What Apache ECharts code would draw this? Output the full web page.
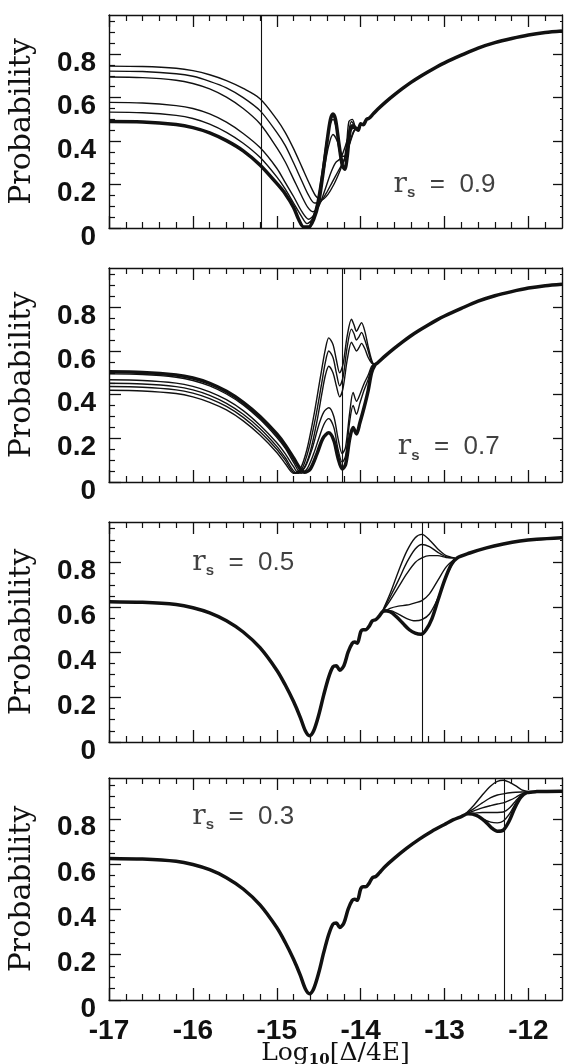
<!DOCTYPE html>
<html><head><meta charset="utf-8">
<script src="https://cdn.jsdelivr.net/npm/echarts@6/dist/echarts.min.js"></script>
<style>html,body{margin:0;padding:0;background:#fff}#c{width:564px;height:1064px}</style>
</head><body><div id="c"></div>
<script>
// ---------- axis ticks / labels ----------
const xMajor = [-17, -16, -15, -14, -13, -12];
const xMinor = [-16.8,-16.6,-16.4,-16.2,-15.8,-15.6,-15.4,-15.2,-14.8,-14.6,-14.4,-14.2,-13.8,-13.6,-13.4,-13.2,-12.8,-12.6,-12.4,-12.2,-11.8];
const yMajor = [0, 0.2, 0.4, 0.6, 0.8];
const yMinor = [0.05,0.1,0.15,0.25,0.3,0.35,0.45,0.5,0.55,0.65,0.7,0.75,0.85,0.9,0.95];
const rsValues = ['0.9', '0.7', '0.5', '0.3'];
const rsLabelPos = [[-13.0, 0.20], [-12.95, 0.16], [-15.4, 0.80], [-15.4, 0.81]];
const vLines = [-15.18, -14.22, -13.26, -12.29];

// ---------- panel 1 (r_s = 0.9) ----------
const tail12X = [-14.0,-13.97,-13.93,-13.9,-13.85,-13.8,-13.7,-13.6,-13.5,-13.4,-13.3,-13.2,-13.1,-13.0,-12.8,-12.6,-12.4,-12.2,-12.0,-11.8,-11.6];
const tail12Y = [0.48,0.475,0.50,0.505,0.525,0.545,0.58,0.612,0.642,0.67,0.695,0.718,0.74,0.76,0.795,0.828,0.853,0.872,0.888,0.899,0.906];
const H1x = [-17,-16.6,-16.2,-16.0,-15.8,-15.6,-15.4,-15.2,-15.0,-14.9,-14.8,-14.74,-14.68,-14.62,-14.56,-14.5,-14.45,-14.4,-14.36,-14.33,-14.3,-14.26,-14.22,-14.19,-14.16,-14.13,-14.1,-14.06,-14.03];
const H1y = [0.49,0.488,0.476,0.462,0.438,0.402,0.355,0.29,0.205,0.158,0.095,0.04,0.005,0.005,0.04,0.12,0.25,0.40,0.50,0.525,0.50,0.39,0.29,0.27,0.33,0.44,0.47,0.46,0.45];
const A1x = [-17,-16.6,-16.2,-16.0,-15.8,-15.6,-15.4,-15.2,-15.0,-14.9,-14.8,-14.7,-14.64,-14.58,-14.52,-14.46,-14.41,-14.37,-14.33,-14.29,-14.25,-14.21,-14.17,-14.14,-14.1,-14.06,-14.03];
const A1y = [0.533,0.53,0.518,0.504,0.478,0.44,0.39,0.325,0.235,0.18,0.115,0.05,0.02,0.04,0.12,0.26,0.39,0.47,0.50,0.46,0.37,0.30,0.38,0.49,0.50,0.46,0.45];
const B1x = [-17,-16.6,-16.2,-16.0,-15.8,-15.6,-15.4,-15.2,-15.0,-14.9,-14.8,-14.7,-14.62,-14.56,-14.5,-14.44,-14.38,-14.33,-14.28,-14.23,-14.19,-14.15,-14.11,-14.07,-14.03];
const B1y = [0.578,0.575,0.563,0.55,0.525,0.487,0.435,0.37,0.275,0.21,0.145,0.075,0.04,0.06,0.13,0.26,0.38,0.43,0.40,0.33,0.33,0.42,0.49,0.47,0.45];
const C1x = [-17,-16.6,-16.2,-16.0,-15.8,-15.6,-15.4,-15.2,-15.0,-14.9,-14.8,-14.7,-14.63,-14.57,-14.5,-14.43,-14.36,-14.3,-14.24,-14.18,-14.12,-14.07,-14.03];
const C1y = [0.695,0.692,0.68,0.665,0.64,0.602,0.55,0.48,0.37,0.305,0.225,0.145,0.095,0.075,0.10,0.17,0.25,0.30,0.32,0.38,0.45,0.46,0.45];
const D1x = [-17,-16.6,-16.2,-16.0,-15.8,-15.6,-15.4,-15.2,-15.0,-14.9,-14.8,-14.7,-14.62,-14.55,-14.48,-14.41,-14.34,-14.27,-14.2,-14.14,-14.09,-14.05,-14.02];
const D1y = [0.722,0.72,0.71,0.698,0.675,0.645,0.6,0.54,0.44,0.38,0.30,0.215,0.15,0.115,0.12,0.16,0.21,0.26,0.31,0.38,0.44,0.46,0.455];
const E1x = [-17,-16.6,-16.2,-16.0,-15.8,-15.6,-15.4,-15.2,-15.0,-14.9,-14.8,-14.7,-14.6,-14.53,-14.46,-14.39,-14.32,-14.25,-14.18,-14.12,-14.07,-14.03];
const E1y = [0.745,0.743,0.735,0.724,0.705,0.678,0.642,0.595,0.50,0.44,0.365,0.28,0.195,0.145,0.13,0.155,0.20,0.26,0.33,0.40,0.45,0.455];

// ---------- panel 2 (r_s = 0.7) ----------
const H2x = [-17,-16.6,-16.2,-16.0,-15.8,-15.6,-15.4,-15.2,-15.0,-14.9,-14.8,-14.72,-14.67,-14.6,-14.52,-14.45,-14.38,-14.32,-14.27,-14.22,-14.18,-14.13,-14.09,-14.05,-14.01,-13.96,-13.91,-13.87,-13.83];
const H2y = [0.505,0.502,0.49,0.476,0.452,0.415,0.365,0.30,0.22,0.17,0.11,0.06,0.045,0.06,0.13,0.20,0.225,0.19,0.11,0.06,0.08,0.20,0.25,0.22,0.27,0.34,0.42,0.50,0.535];
const L2x = [-17,-16.6,-16.2,-16.0,-15.8,-15.6,-15.4,-15.2,-15.0,-14.9,-14.8,-14.71,-14.64,-14.56,-14.49,-14.43,-14.38,-14.32,-14.27,-14.22,-14.18,-14.13,-14.09,-14.05,-14.01,-13.96,-13.91,-13.87,-13.84];
const L2y = [0.495,0.492,0.48,0.465,0.44,0.403,0.353,0.287,0.205,0.155,0.09,0.04,0.06,0.13,0.21,0.27,0.29,0.25,0.15,0.09,0.12,0.28,0.35,0.31,0.36,0.42,0.47,0.52,0.54];
const L1x = [-17,-16.6,-16.2,-16.0,-15.8,-15.6,-15.4,-15.2,-15.0,-14.9,-14.8,-14.74,-14.66,-14.58,-14.5,-14.44,-14.38,-14.32,-14.27,-14.22,-14.18,-14.13,-14.09,-14.05,-14.01,-13.96,-13.91,-13.87,-13.84];
const L1y = [0.468,0.465,0.453,0.438,0.413,0.377,0.327,0.26,0.18,0.13,0.07,0.04,0.07,0.15,0.26,0.32,0.34,0.30,0.20,0.13,0.16,0.32,0.41,0.37,0.40,0.45,0.49,0.53,0.54];
const U3x = [-17,-16.6,-16.2,-16.0,-15.8,-15.6,-15.4,-15.2,-15.0,-14.9,-14.76,-14.68,-14.6,-14.52,-14.46,-14.42,-14.38,-14.33,-14.29,-14.25,-14.21,-14.16,-14.11,-14.08,-14.05,-14.02,-13.99,-13.95,-13.91,-13.87,-13.84];
const U3y = [0.452,0.449,0.437,0.422,0.397,0.36,0.31,0.245,0.163,0.112,0.04,0.06,0.14,0.28,0.41,0.49,0.53,0.50,0.44,0.39,0.43,0.56,0.64,0.62,0.60,0.615,0.635,0.61,0.57,0.545,0.54];
const U2x = [-17,-16.6,-16.2,-16.0,-15.8,-15.6,-15.4,-15.2,-15.0,-14.9,-14.78,-14.7,-14.62,-14.54,-14.47,-14.42,-14.38,-14.33,-14.29,-14.25,-14.21,-14.16,-14.11,-14.08,-14.05,-14.02,-13.99,-13.95,-13.91,-13.87,-13.84];
const U2y = [0.437,0.434,0.422,0.407,0.382,0.346,0.296,0.23,0.15,0.10,0.04,0.06,0.15,0.29,0.44,0.55,0.60,0.57,0.50,0.44,0.48,0.62,0.70,0.68,0.65,0.665,0.685,0.65,0.60,0.55,0.54];
const U1x = [-17,-16.6,-16.2,-16.0,-15.8,-15.6,-15.4,-15.2,-15.0,-14.9,-14.8,-14.72,-14.64,-14.56,-14.48,-14.42,-14.38,-14.33,-14.29,-14.25,-14.21,-14.16,-14.11,-14.08,-14.05,-14.02,-13.99,-13.95,-13.91,-13.87,-13.84];
const U1y = [0.42,0.417,0.405,0.39,0.365,0.33,0.28,0.215,0.135,0.085,0.04,0.06,0.15,0.30,0.48,0.61,0.66,0.63,0.56,0.50,0.54,0.67,0.745,0.72,0.69,0.71,0.73,0.69,0.62,0.56,0.54];

// ---------- panel 3 (r_s = 0.5) ----------
const P3x = [-17,-16.6,-16.2,-16.0,-15.8,-15.6,-15.4,-15.2,-15.0,-14.9,-14.8,-14.72,-14.66,-14.61,-14.56,-14.5,-14.44,-14.38,-14.33,-14.29,-14.25,-14.2,-14.15,-14.1,-14.07,-14.04,-14.0,-13.97,-13.94,-13.9,-13.86,-13.82,-13.78,-13.72,-13.65,-13.58,-13.5,-13.42,-13.35,-13.28,-13.22,-13.15,-13.08,-13.0,-12.92,-12.85,-12.7,-12.5,-12.3,-12.1,-11.9,-11.6];
const P3y = [0.625,0.622,0.612,0.598,0.575,0.54,0.49,0.42,0.32,0.255,0.18,0.11,0.05,0.028,0.05,0.12,0.21,0.29,0.335,0.34,0.32,0.34,0.40,0.44,0.445,0.44,0.49,0.50,0.50,0.515,0.54,0.545,0.56,0.585,0.58,0.56,0.53,0.50,0.485,0.48,0.50,0.55,0.63,0.72,0.79,0.82,0.842,0.865,0.882,0.895,0.903,0.91];
const B3x = [-13.75,-13.65,-13.55,-13.45,-13.35,-13.27,-13.18,-13.08,-12.98,-12.88];
const T1_3 = [0.575,0.66,0.76,0.85,0.91,0.925,0.90,0.86,0.83,0.82];
const T2_3 = [0.575,0.645,0.72,0.80,0.86,0.88,0.87,0.845,0.825,0.82];
const T3_3 = [0.575,0.63,0.69,0.75,0.80,0.82,0.83,0.83,0.822,0.82];
const T4_3 = [0.575,0.595,0.605,0.61,0.62,0.63,0.66,0.72,0.78,0.815];
const T5_3 = [0.575,0.585,0.57,0.55,0.54,0.545,0.57,0.64,0.74,0.81];

// ---------- panel 4 (r_s = 0.3) ----------
const P4x = [-17,-16.6,-16.2,-16.0,-15.8,-15.6,-15.4,-15.2,-15.0,-14.9,-14.8,-14.72,-14.66,-14.61,-14.56,-14.5,-14.44,-14.38,-14.33,-14.29,-14.25,-14.2,-14.15,-14.1,-14.07,-14.04,-14.0,-13.97,-13.94,-13.9,-13.86,-13.82,-13.78,-13.72,-13.6,-13.45,-13.3,-13.15,-13.0,-12.9,-12.8,-12.72,-12.62,-12.52,-12.44,-12.37,-12.3,-12.23,-12.16,-12.09,-12.02,-11.9,-11.6];
const P4y = [0.625,0.622,0.612,0.598,0.575,0.54,0.49,0.42,0.32,0.255,0.18,0.11,0.05,0.028,0.05,0.12,0.21,0.29,0.335,0.34,0.32,0.34,0.40,0.44,0.445,0.44,0.49,0.50,0.50,0.515,0.54,0.545,0.56,0.585,0.625,0.67,0.71,0.745,0.775,0.795,0.81,0.822,0.815,0.79,0.76,0.745,0.75,0.79,0.85,0.895,0.915,0.92,0.922];
const B4x = [-12.75,-12.65,-12.55,-12.45,-12.37,-12.3,-12.22,-12.15,-12.08,-12.0];
const T1_4 = [0.822,0.86,0.905,0.945,0.965,0.97,0.96,0.945,0.928,0.92];
const T2_4 = [0.822,0.845,0.87,0.893,0.905,0.91,0.915,0.917,0.918,0.918];
const T3_4 = [0.822,0.835,0.848,0.858,0.865,0.87,0.882,0.895,0.91,0.918];
const T4_4 = [0.822,0.825,0.828,0.828,0.828,0.83,0.85,0.88,0.905,0.918];
const T5_4 = [0.822,0.818,0.80,0.785,0.782,0.79,0.825,0.87,0.902,0.918];

// ---------- build ----------
const X_MIN = -17, X_MAX = -11.6, Y_MIN = 0, Y_MAX = 0.98;
function pts(xs, ys) { return xs.map((x, i) => [x, ys[i]]); }
function joinTail(xs, ys, tx, ty) {
  const p = pts(xs, ys); const last = xs[xs.length - 1];
  tx.forEach((x, i) => { if (x > last + 1e-9) p.push([x, ty[i]]); });
  return p;
}
const panels = [
  { thin: [A1x, A1y, B1x, B1y, C1x, C1y, D1x, D1y, E1x, E1y], heavy: [H1x, H1y], tail: [tail12X, tail12Y] },
  { thin: [U1x, U1y, U2x, U2y, U3x, U3y, L1x, L1y, L2x, L2y], heavy: [H2x, H2y], tail: [tail12X, tail12Y] },
  { thin: [B3x, T1_3, B3x, T2_3, B3x, T3_3, B3x, T4_3, B3x, T5_3], heavy: [P3x, P3y], tail: null },
  { thin: [B4x, T1_4, B4x, T2_4, B4x, T3_4, B4x, T4_4, B4x, T5_4], heavy: [P4x, P4y], tail: null }
];
const layout = [ {top: 15, height: 213}, {top: 268, height: 214}, {top: 522, height: 220}, {top: 778, height: 222} ];
const INK = '#111';
const SANS = 'Liberation Sans, Arial, sans-serif';
const SERIF = 'DejaVu Serif, serif';

const grids = [], xAxes = [], yAxes = [], series = [];
layout.forEach((g, i) => {
  grids.push({ left: 109, width: 453, top: g.top, height: g.height, containLabel: false, outerBoundsMode: 'none' });
  const isLast = i === layout.length - 1;
  const base = { gridIndex: i, type: 'value', min: X_MIN, max: X_MAX, splitLine: { show: false } };
  xAxes.push(Object.assign({}, base, {
    position: 'bottom',
    axisLine: { show: true, onZero: false, lineStyle: { color: INK, width: 1.4 } },
    axisTick: { show: true, inside: true, length: 12, customValues: xMajor, lineStyle: { color: INK, width: 1.3 } },
    axisLabel: isLast ? { show: true, customValues: xMajor, margin: 17, color: INK, fontSize: 28, fontWeight: 'bold', fontFamily: SANS, formatter: v => String(v) } : { show: false },
    name: isLast ? '{a|Log}{s|10}{a|[Δ/4E]}' : '',
    nameLocation: 'middle', nameGap: 38, nameMoveOverlap: false,
    nameTextStyle: { verticalAlign: 'top', rich: {
      a: { fontFamily: SERIF, fontSize: 25, color: INK, lineHeight: 30 },
      s: { fontFamily: SERIF, fontSize: 15, fontWeight: 'bold', color: INK, lineHeight: 14, verticalAlign: 'bottom' } } }
  }));
  xAxes.push(Object.assign({}, base, { position: 'bottom', axisLine: { show: false, onZero: false },
    axisTick: { show: true, inside: true, length: 6, customValues: xMinor, lineStyle: { color: INK, width: 1.2 } }, axisLabel: { show: false } }));
  xAxes.push(Object.assign({}, base, { position: 'top', axisLine: { show: true, onZero: false, lineStyle: { color: INK, width: 1.4 } },
    axisTick: { show: true, inside: true, length: 12, customValues: xMajor, lineStyle: { color: INK, width: 1.3 } }, axisLabel: { show: false } }));
  xAxes.push(Object.assign({}, base, { position: 'top', axisLine: { show: false, onZero: false },
    axisTick: { show: true, inside: true, length: 6, customValues: xMinor, lineStyle: { color: INK, width: 1.2 } }, axisLabel: { show: false } }));

  const ybase = { gridIndex: i, type: 'value', min: Y_MIN, max: Y_MAX, splitLine: { show: false } };
  yAxes.push(Object.assign({}, ybase, {
    position: 'left',
    axisLine: { show: true, onZero: false, lineStyle: { color: INK, width: 1.4 } },
    axisTick: { show: true, inside: true, length: 12, customValues: yMajor, lineStyle: { color: INK, width: 1.3 } },
    axisLabel: { show: true, customValues: yMajor, margin: 13, color: INK, fontSize: 28, fontWeight: 'bold', fontFamily: SANS,
      verticalAlign: 'top', lineHeight: 18, formatter: v => (v === 0 ? '0' : v.toFixed(1)) },
    name: 'Probability', nameLocation: 'middle', nameGap: 72, nameMoveOverlap: false,
    nameTextStyle: { fontFamily: SERIF, fontSize: 30, color: INK }
  }));
  yAxes.push(Object.assign({}, ybase, { position: 'left', axisLine: { show: false, onZero: false },
    axisTick: { show: true, inside: true, length: 6, customValues: yMinor, lineStyle: { color: INK, width: 1.2 } }, axisLabel: { show: false } }));
  yAxes.push(Object.assign({}, ybase, { position: 'right', axisLine: { show: true, onZero: false, lineStyle: { color: INK, width: 1.4 } },
    axisTick: { show: true, inside: true, length: 9, customValues: yMajor.filter(v => v > 0), lineStyle: { color: INK, width: 1.3 } }, axisLabel: { show: false } }));
  yAxes.push(Object.assign({}, ybase, { position: 'right', axisLine: { show: false, onZero: false },
    axisTick: { show: true, inside: true, length: 2, customValues: yMinor, lineStyle: { color: INK, width: 1 } }, axisLabel: { show: false } }));

  const p = panels[i];
  const xi = 4 * i, yi = 4 * i;
  for (let k = 0; k < p.thin.length; k += 2) {
    const data = p.tail ? joinTail(p.thin[k], p.thin[k + 1], p.tail[0], p.tail[1]) : pts(p.thin[k], p.thin[k + 1]);
    series.push({ type: 'line', xAxisIndex: xi, yAxisIndex: yi, data, showSymbol: false, smooth: 0.3,
      lineStyle: { color: INK, width: 1.4 }, silent: true, z: 3 });
  }
  const hdata = p.tail ? joinTail(p.heavy[0], p.heavy[1], p.tail[0], p.tail[1]) : pts(p.heavy[0], p.heavy[1]);
  series.push({ type: 'line', xAxisIndex: xi, yAxisIndex: yi, data: hdata, showSymbol: false, smooth: 0.3,
    lineStyle: { color: INK, width: 3.5 }, silent: true, z: 4,
    markLine: { silent: true, symbol: ['none', 'none'], label: { show: false },
      lineStyle: { color: INK, width: 1.1, type: 'solid' }, data: [{ xAxis: vLines[i] }] } });
  series.push({ type: 'scatter', xAxisIndex: xi, yAxisIndex: yi, symbolSize: 0, silent: true, z: 5,
    data: [rsLabelPos[i]],
    label: { show: true, position: 'inside',
      formatter: '{r|r}{s|s}{t|  =  ' + rsValues[i] + '}',
      rich: {
        r: { fontFamily: SERIF, fontSize: 28, color: INK, lineHeight: 32 },
        s: { fontFamily: SANS, fontSize: 15, fontWeight: 'bold', color: INK, lineHeight: 12, verticalAlign: 'bottom' },
        t: { fontFamily: SANS, fontSize: 26, color: INK, lineHeight: 32 } } } });
});

const chart = echarts.init(document.getElementById('c'), null, { renderer: 'canvas' });
chart.setOption({ animation: false, backgroundColor: '#fff', grid: grids, xAxis: xAxes, yAxis: yAxes, series });
</script></body></html>
